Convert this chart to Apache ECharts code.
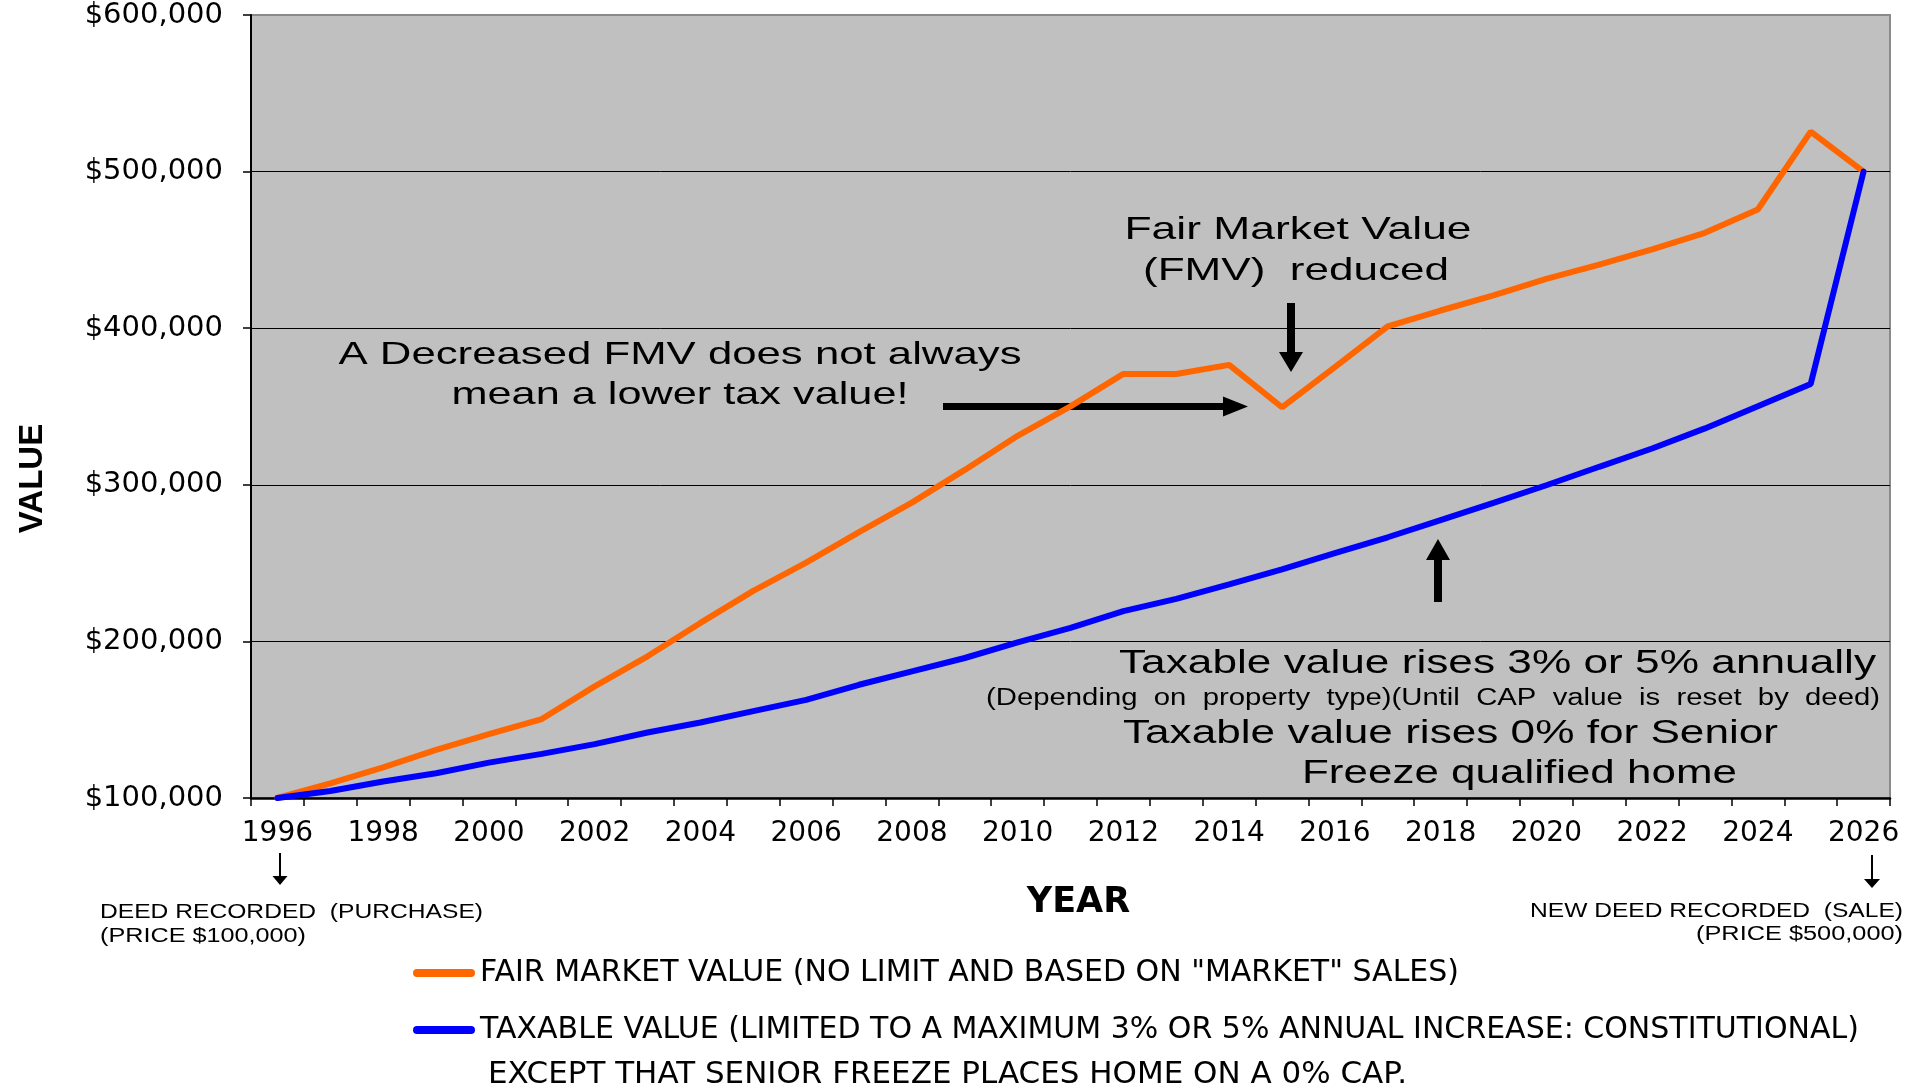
<!DOCTYPE html>
<html>
<head>
<meta charset="utf-8">
<script src="https://cdn.jsdelivr.net/npm/echarts@6/dist/echarts.min.js"></script>
<style>
html,body{margin:0;padding:0;background:#ffffff;}
#chart{width:1921px;height:1087px;}
</style>
</head>
<body>
<div id="chart"></div>
<script>
// ---- data ----
const years = ['1996','1997','1998','1999','2000','2001','2002','2003','2004','2005',
  '2006','2007','2008','2009','2010','2011','2012','2013','2014','2015',
  '2016','2017','2018','2019','2020','2021','2022','2023','2024','2025','2026'];
const fairMarketValue = [100000,109300,119600,130700,140800,150400,171300,190500,211800,232300,
  250300,269800,288600,309500,331300,350100,370800,370800,376600,349500,
  375200,401100,411300,420900,431500,440600,450300,460900,475800,525500,500000];
const taxableValue = [100000,104500,110500,115800,122600,128200,134400,141800,148200,155500,
  162700,172300,180900,189400,199400,208600,219300,227200,236400,246000,
  256400,266500,277500,288500,299700,311500,323200,336000,350100,364400,500000];
const yAxisMin = 100000;
const yAxisMax = 600000;
const yAxisStep = 100000;
const seriesNames = [
  'FAIR MARKET VALUE (NO LIMIT AND BASED ON "MARKET" SALES)',
  'TAXABLE VALUE (LIMITED TO A MAXIMUM 3% OR 5% ANNUAL INCREASE: CONSTITUTIONAL)'
];

// ---- helpers for annotations ----
const mctx = document.createElement('canvas').getContext('2d');
function fitScale(text, font, w) { mctx.font = font; return w / mctx.measureText(text).width; }
const SANS = '"Liberation Sans", Arial, sans-serif';
function note(text, x, y, size, width, align, family) {
  const font = size + 'px ' + (family || SANS);
  return {
    type: 'text', x: x, y: y, z: 5,
    scaleX: fitScale(text, font, width),
    style: { text: text, font: font, fill: '#000',
      align: align, verticalAlign: 'middle', textAlign: align, textVerticalAlign: 'middle' }
  };
}
function arrowDown(x, y0, tip, sw, hw, hl) {
  const yb = tip - hl;
  return { type: 'polygon', z: 1, shape: { points: [
    [x - sw / 2, y0], [x + sw / 2, y0], [x + sw / 2, yb], [x + hw / 2, yb], [x, tip],
    [x - hw / 2, yb], [x - sw / 2, yb]] }, style: { fill: '#000' } };
}
function arrowUp(x, y0, tip, sw, hw, hl) {
  const yb = tip + hl;
  return { type: 'polygon', z: 1, shape: { points: [
    [x - sw / 2, y0], [x + sw / 2, y0], [x + sw / 2, yb], [x + hw / 2, yb], [x, tip],
    [x - hw / 2, yb], [x - sw / 2, yb]] }, style: { fill: '#000' } };
}
function arrowRight(x0, y, tip, sw, hw, hl) {
  const xb = tip - hl;
  return { type: 'polygon', z: 1, shape: { points: [
    [x0, y - sw / 2], [x0, y + sw / 2], [xb, y + sw / 2], [xb, y + hw / 2], [tip, y],
    [xb, y - hw / 2], [xb, y - sw / 2]] }, style: { fill: '#000' } };
}

const DV = '"DejaVu Sans", sans-serif';
const graphics = [
  note('Fair Market Value', 1298, 230, 32, 347, 'center'),
  note('(FMV)  reduced', 1296, 271, 32, 306, 'center'),
  note('A Decreased FMV does not always', 680, 355, 32, 683, 'center'),
  note('mean a lower tax value!', 680, 395, 32, 457, 'center'),
  note('Taxable value rises 3% or 5% annually', 1119, 664, 33, 757, 'left'),
  note('(Depending  on  property  type)(Until  CAP  value  is  reset  by  deed)', 986, 699, 23, 894, 'left'),
  note('Taxable value rises 0% for Senior', 1123, 734, 33, 655, 'left'),
  note('Freeze qualified home', 1302, 774, 33, 435, 'left'),
  note('DEED RECORDED  (PURCHASE)', 100, 912, 20, 383, 'left'),
  note('(PRICE $100,000)', 100, 936, 20, 206, 'left'),
  note('NEW DEED RECORDED  (SALE)', 1903, 911, 20, 373, 'right'),
  note('(PRICE $500,000)', 1903, 934, 20, 207, 'right'),
  note('EXCEPT THAT SENIOR FREEZE PLACES HOME ON A 0% CAP.', 488, 1075, 30, 919, 'left', DV),
  arrowDown(1291, 303, 372, 8, 24, 20),
  arrowRight(943, 406.5, 1248, 7, 20, 25),
  arrowUp(1438, 602, 539, 8, 24, 21),
  arrowDown(280, 853, 885, 2, 15, 9),
  arrowDown(1872, 855, 888, 2, 16, 9)
];

const chart = echarts.init(document.getElementById('chart'), null, { renderer: 'canvas' });
chart.setOption({
  animation: false,
  backgroundColor: '#ffffff',
  grid: {
    left: 251, right: 31, top: 15, bottom: 289,
    show: true, backgroundColor: '#C0C0C0', borderColor: '#8a8a8a', borderWidth: 2,
    containLabel: false, outerBoundsMode: 'none'
  },
  legend: {
    orient: 'vertical', left: 408, top: 953,
    itemWidth: 62, itemHeight: 8, itemGap: 27,
    icon: 'path://M4 0H58A4 4 0 0 1 58 8H4A4 4 0 0 1 4 0Z',
    selectedMode: false,
    textStyle: { fontFamily: 'DejaVu Sans', fontSize: 30, color: '#000', lineHeight: 30 },
    data: seriesNames
  },
  xAxis: {
    type: 'category', data: years, boundaryGap: true,
    name: 'YEAR', nameLocation: 'middle', nameGap: 87,
    nameTextStyle: { fontFamily: 'DejaVu Sans', fontWeight: 'bold', fontSize: 35, color: '#000', padding: [0, 0, 0, 16] },
    axisLine: { show: true, lineStyle: { color: '#000', width: 2.5 } },
    axisTick: { show: true, interval: 0, length: 8, inside: false, lineStyle: { color: '#000', width: 1.5 } },
    axisLabel: { interval: 1, margin: 22, fontFamily: 'DejaVu Sans', fontSize: 28, color: '#000' },
    splitLine: { show: false }
  },
  yAxis: {
    type: 'value', min: yAxisMin, max: yAxisMax, interval: yAxisStep,
    name: 'VALUE', nameLocation: 'middle', nameRotate: 90, nameGap: 202,
    nameTextStyle: { fontFamily: 'Liberation Sans', fontWeight: 'bold', fontSize: 33, color: '#000', padding: [0, 144, 0, 0] },
    axisLine: { show: true, lineStyle: { color: '#000', width: 2 } },
    axisTick: { show: true, length: 8, inside: false, lineStyle: { color: '#000', width: 1.5 } },
    axisLabel: {
      margin: 28, fontFamily: 'DejaVu Sans', fontSize: 29, color: '#000',
      formatter: function (v) { return '$' + v.toLocaleString('en-US'); }
    },
    splitLine: { show: true, showMaxLine: false, lineStyle: { color: '#000', width: 1 } }
  },
  series: [
    {
      name: seriesNames[0], type: 'line', data: fairMarketValue,
      symbol: 'none', showSymbol: false, z: 3,
      itemStyle: { color: '#FF6600' },
      lineStyle: { color: '#FF6600', width: 6, cap: 'round' }
    },
    {
      name: seriesNames[1], type: 'line', data: taxableValue,
      symbol: 'none', showSymbol: false, z: 4,
      itemStyle: { color: '#0000FF' },
      lineStyle: { color: '#0000FF', width: 6, cap: 'round' }
    }
  ],
  graphic: graphics
});
</script>
</body>
</html>
